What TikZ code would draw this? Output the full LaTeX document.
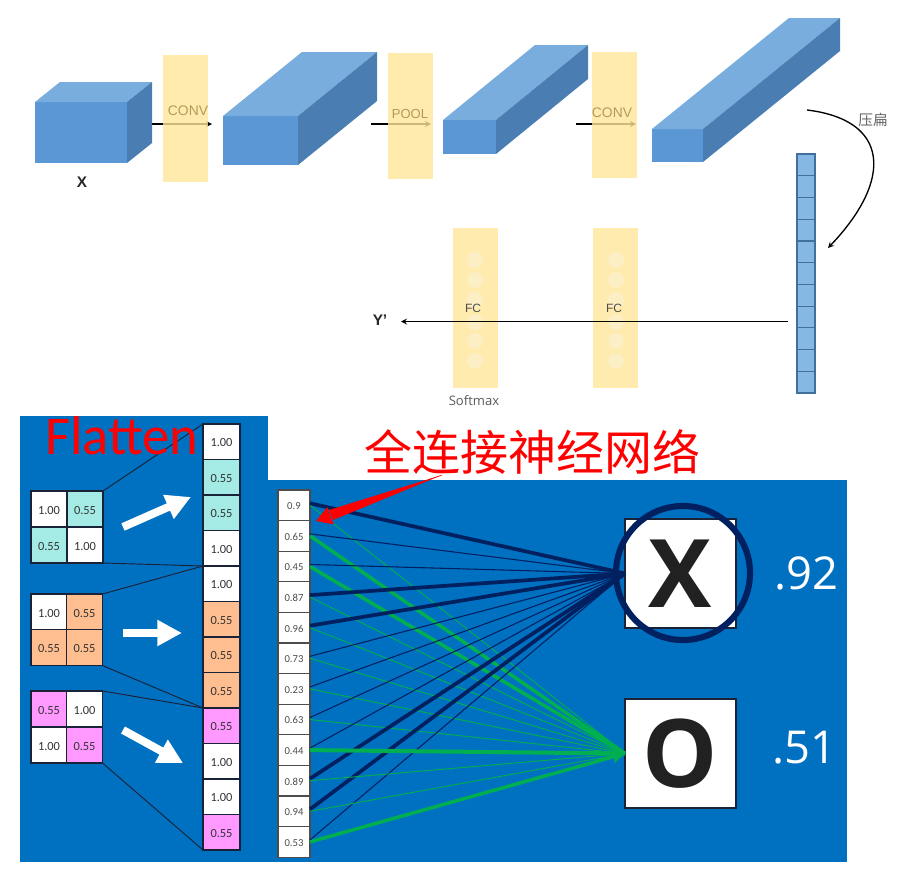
\documentclass[tikz,border=0pt]{standalone}
\usepackage{fontspec}
\setmainfont{Carlito}
\setsansfont{Liberation Sans}
\newfontfamily\cjkfont{Noto Sans CJK SC}
\newfontfamily\openfont{Open Sans}
\usetikzlibrary{calc, arrows.meta}
\definecolor{mainBlue}{HTML}{0070C0}
\definecolor{lineDark}{HTML}{1A2238}
\definecolor{navyLine}{HTML}{002060}
\definecolor{greenLine}{HTML}{00B050}
\definecolor{cubeFront}{HTML}{5A97D4}
\definecolor{cubeTop}{HTML}{78ADDE}
\definecolor{cubeSide}{HTML}{4A7DB1}
\definecolor{barYellow}{HTML}{FFE698}
\definecolor{barDot}{HTML}{FCEFC6}
\definecolor{barText}{HTML}{B39A5C}
\definecolor{cellTeal}{HTML}{A5EBE5}
\definecolor{cellOrange}{HTML}{FFBE8F}
\definecolor{cellPink}{HTML}{FF99FF}
\definecolor{flatFill}{HTML}{86B8E4}
\definecolor{flatLine}{HTML}{41709F}
\tikzset{
    yellowbar/.style={fill=barYellow, fill opacity=0.8, minimum width=45*0.75pt, inner sep=0pt},
    bartext/.style={font=\sffamily\fontsize{10.4}{12}\selectfont, text=barText},
    dotmark/.style={circle, fill=barDot, minimum size=16*0.75pt, inner sep=0pt},
    fctext/.style={font=\sffamily\fontsize{9}{11}\selectfont, text=black!70},
    flatcell/.style={draw=flatLine, fill=flatFill, line width=0.9pt, minimum width=18*0.75pt, minimum height=21.73*0.75pt, inner sep=0pt},
    gridcell/.style={draw=lineDark, line width=0.9pt, minimum width=36*0.75pt, minimum height=36*0.75pt, inner sep=0pt, outer sep=0pt, text=black!80, text height=7.5pt, text depth=0pt, font=\fontsize{9.3}{11}\selectfont},
    stackcell/.style={gridcell, minimum width=37*0.75pt, minimum height=35.5*0.75pt},
    inputcell/.style={gridcell, draw=black!70, fill=white, minimum width=32*0.75pt, minimum height=30.6*0.75pt, text=black!70, text height=6.5pt, font=\fontsize{8}{10}\selectfont},
    outbox/.style={draw=lineDark, fill=white, line width=0.8pt, minimum width=111*0.75pt, minimum height=109*0.75pt, inner sep=0pt, outer sep=0pt, text=black!87, font=\openfont\bfseries\fontsize{71}{80}\selectfont},
    scoretext/.style={text=white, font=\openfont\fontsize{34}{40}\selectfont},
    wirelink/.style={draw=lineDark, line width=0.7pt},
    whitearrow/.style={draw=white, line width=6pt, -{Triangle[width=18.5pt,length=18.5pt]}},
}
\newcommand{\cuboid}[6]{%
    \fill[cubeFront] (#1,#2) rectangle (#3,#4);
    \fill[cubeTop] (#1,#2) -- (#3,#2) -- ++(#5,-#6) -- ++(#1-#3,0) -- cycle;
    \fill[cubeSide] (#3,#2) -- (#3,#4) -- ++(#5,-#6) -- ++(0,#2-#4) -- cycle;
}

\begin{document}
\begin{tikzpicture}[x=0.75pt, y=-0.75pt, >=stealth]
    \useasboundingbox (0,0) rectangle (897,878);

    % upper part
    \cuboid{35}{102}{127}{163}{25}{20}
    \cuboid{223}{116}{298}{165}{79}{64}
    \cuboid{443}{120}{496}{154}{92}{75}
    \cuboid{652}{129}{703}{162}{137}{111}

    \coordinate (convaIn) at (152,124);
    \coordinate (convaOut) at (212,124);
    \coordinate (poolIn) at (371,124);
    \coordinate (poolOut) at (431,124);
    \coordinate (convbIn) at (576,124);
    \coordinate (convbOut) at (636,124);
    \draw[->, line width=1pt] (convaIn) -- (convaOut);
    \draw[->, line width=1pt] (poolIn) -- (poolOut);
    \draw[->, line width=1pt] (convbIn) -- (convbOut);

    \node[yellowbar, minimum height=127*0.75pt] (conva) at (185,118.5) {};
    \node[yellowbar, minimum height=126*0.75pt] (pool) at (410.5,116) {};
    \node[yellowbar, minimum height=126*0.75pt] (convb) at (614.5,115) {};
    \node[bartext] at (188,111) {CONV};
    \node[bartext, font=\sffamily\fontsize{9.8}{12}\selectfont] at (410,114) {POOL};
    \node[bartext] at (612,113) {CONV};
    \node[font=\sffamily\bfseries\fontsize{11.5}{13}\selectfont, text=black!85] (inputX) at (82,182) {X};

    \node[yellowbar, minimum height=160*0.75pt] (fca) at (475,308) {};
    \node[yellowbar, minimum height=160*0.75pt] (fcb) at (615.5,308) {};
    \foreach \yy in {260,280,300,322,341,361} {
        \node[dotmark] at (475,\yy) {};
        \node[dotmark] at (616,\yy) {};
    }
    \node[fctext] at (473,308) {FC};
    \node[fctext] at (614,308) {FC};
    \node[font=\openfont\fontsize{9.8}{12}\selectfont, text=black!65] at (474,401) {Softmax};

    \foreach \i in {1,...,11} {
        \node[flatcell] (f\i) at (806,{154+21.73*(\i-0.5)}) {};
    }
    \coordinate (flatStart) at (807,110);
    \coordinate (flatEnd) at (828,248);
    \draw[->, line width=1pt] (flatStart) .. controls (890,120) and (893,180) .. (flatEnd);
    \node[font=\cjkfont\fontsize{11}{13}\selectfont, text=black!60] at (873,120) {压扁};

    \node[font=\sffamily\bfseries\fontsize{11.5}{13}\selectfont, text=black!85] (outY) at (380,320) {Y’};
    \coordinate (flatOut) at (788,321.5);
    \coordinate (outTip) at (401,321.5);
    \draw[->, line width=1pt] (flatOut) -- (outTip);

    % lower part
    \fill[mainBlue] (20,416) rectangle (268,862);
    \fill[mainBlue] (268,480) rectangle (847,862);

    \foreach \nm/\xc/\yc/\val/\col in {a1/49/509/1.00/white, a2/85/509/0.55/cellTeal, a3/49/545/0.55/cellTeal, a4/85/545/1.00/white,
        b1/49/612/1.00/white, b2/84.5/612/0.55/cellOrange, b3/49/647.5/0.55/cellOrange, b4/84.5/647.5/0.55/cellOrange,
        c1/49/709/0.55/cellPink, c2/84.5/709/1.00/white, c3/49/745/1.00/white, c4/84.5/745/0.55/cellPink} {
        \node[gridcell, fill=\col] (\nm) at (\xc,\yc) {\val};
    }

    \foreach \i/\val/\col in {1/1.00/white, 2/0.55/cellTeal, 3/0.55/cellTeal, 4/1.00/white, 5/1.00/white, 6/0.55/cellOrange,
        7/0.55/cellOrange, 8/0.55/cellOrange, 9/0.55/cellPink, 10/1.00/white, 11/1.00/white, 12/0.55/cellPink} {
        \node[stackcell, fill=\col] (v\i) at (221.5,{424+35.5*(\i-0.5)}) {\val};
    }

    \draw[wirelink] (a2.north east) -- (v1.north west);
    \draw[wirelink] (a4.south east) -- (v4.south west);
    \draw[wirelink] (b2.north east) -- (v4.south west);
    \draw[wirelink] (b4.south east) -- (v8.south west);
    \draw[wirelink] (c2.north east) -- (v8.south west);
    \draw[wirelink] (c4.south east) -- (v12.south west);

    \coordinate (waStart) at (123,527);
    \coordinate (waEnd) at (191,497);
    \coordinate (wbStart) at (123,633);
    \coordinate (wbEnd) at (182,633);
    \coordinate (wcStart) at (123,730);
    \coordinate (wcEnd) at (183,763);
    \draw[whitearrow] (waStart) -- (waEnd);
    \draw[whitearrow] (wbStart) -- (wbEnd);
    \draw[whitearrow] (wcStart) -- (wcEnd);

    \foreach \i/\val in {1/0.9, 2/0.65, 3/0.45, 4/0.87, 5/0.96, 6/0.73, 7/0.23, 8/0.63, 9/0.44, 10/0.89, 11/0.94, 12/0.53} {
        \node[inputcell] (u\i) at (294,{490+30.6*(\i-0.5)}) {\val};
    }

    \node[outbox] (boxX) at (680.5,573.5) {X};
    \node[outbox] (boxO) at (680.5,753.5) {O};
    \node[scoretext] at (806,573) {.92};
    \node[scoretext] at (804,748) {.51};

    % weights
    \foreach \i/\w in {1/0.7, 2/2.6, 3/2.6, 4/0.7, 5/0.7, 6/0.7, 7/0.7, 8/0.7} {
        \draw[greenLine, line width=\w pt] (u\i.east) -- (boxO.west);
    }
    \foreach \i/\w in {1/2.8, 2/0.8, 3/0.8, 4/2.8, 5/2.8, 6/0.8, 7/0.8, 8/0.8, 9/0.8, 10/2.8, 11/2.8, 12/0.8} {
        \draw[navyLine, line width=\w pt] ($(u\i.east)+(0,-2)$) -- (boxX.west);
    }
    \foreach \i/\w in {10/0.7, 11/0.7, 12/2.6} {
        \draw[greenLine, line width=\w pt] (u\i.east) -- (boxO.west);
    }
    \draw[greenLine, line width=3pt, -{Triangle[width=14pt,length=8pt]}] (u9.east) -- (boxO.west);

    \node[draw=navyLine, line width=4.6pt, circle, minimum size=134*0.75pt, inner sep=0pt] (ring) at (683,573) {};

    % titles
    \node[font=\fontsize{41}{46}\selectfont, text=red] (flatten) at (122,436) {Flatten};
    \node[font=\cjkfont\fontsize{36}{40}\selectfont, text=red] (netTitle) at (532,452) {全连接神经网络};
    \coordinate (redTail) at (442,475);
    \coordinate (redTip) at (316,521);
    \fill[red] (redTail) -- (329,510) -- (333,520) -- cycle;
    \draw[red, line width=0.4pt, -{Triangle[width=13.5pt,length=11.5pt]}] (redTail) -- (redTip);
\end{tikzpicture}
\end{document}
